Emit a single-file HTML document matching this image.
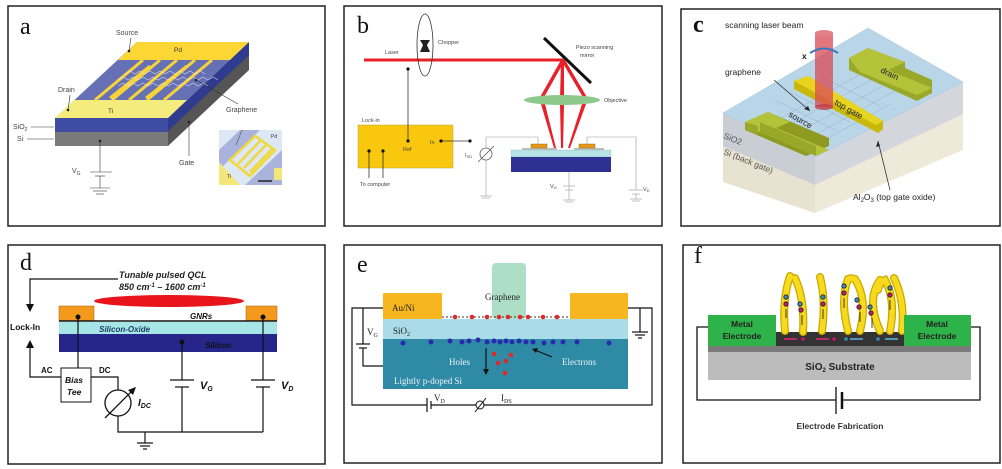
<!DOCTYPE html>
<html><head><meta charset="utf-8"><style>
html,body{margin:0;padding:0;background:#fff;}
svg{display:block;}
text{font-family:"Liberation Sans",sans-serif;}
.pl{font-family:"Liberation Serif",serif;font-size:24px;fill:#111;}
.sf text,text.sf{font-family:"Liberation Serif",serif;}
</style></head><body>
<svg width="1002" height="469" viewBox="0 0 1002 469" xmlns="http://www.w3.org/2000/svg">
<rect width="1002" height="469" fill="#fff"/>
<!-- panel borders -->
<g fill="none" stroke="#222" stroke-width="1.5">
<rect x="8" y="6" width="317" height="220"/>
<rect x="344" y="6" width="318" height="220"/>
<rect x="681" y="9" width="319" height="217"/>
<rect x="8" y="245" width="317" height="219"/>
<rect x="344" y="245" width="318" height="218"/>
<rect x="683" y="245" width="317" height="218"/>
</g>

<!-- ===== Panel a ===== -->
<text class="pl" x="20" y="34">a</text>
<polygon points="168,118 249,42 249,70 168,146" fill="#555"/>
<polygon points="168,118 249,42 249,55 168,131" fill="#2f3b8e"/>
<rect x="55" y="118" width="113" height="14" fill="#3f4ca3"/>
<rect x="55" y="132" width="113" height="14" fill="#7a7a7a"/>
<polygon points="55,118 168,118 249,42 137,42" fill="#6670b4"/>
<polygon points="137,42 249,42 230,60 118,60" fill="#fbd634"/>
<polygon points="74,100 187,100 168,118 55,118" fill="#f5ec7e"/>
<g stroke="#f7d33a" stroke-width="3">
<line x1="143" y1="60" x2="95" y2="100"/><line x1="160" y1="60" x2="112" y2="100"/>
<line x1="177" y1="60" x2="129" y2="100"/><line x1="195" y1="60" x2="147" y2="100"/>
<line x1="212" y1="60" x2="164" y2="100"/>
<line x1="150" y1="66" x2="110" y2="98"/><line x1="187" y1="66" x2="146" y2="98"/>
</g>
<g fill="none" stroke="#e8e8ff" stroke-width="0.6" opacity="0.8">
<path d="M118,80 l5,-3 l5,3 l5,-3 l5,3 l5,-3 l5,3 l5,-3 l5,3 l5,-3 l5,3 l5,-3 l5,3 l5,-3 l5,3 l5,-3 l5,3 l5,-3 l5,3 l5,-3 l5,3"/>
<path d="M118,86 l5,-3 l5,3 l5,-3 l5,3 l5,-3 l5,3 l5,-3 l5,3 l5,-3 l5,3 l5,-3 l5,3 l5,-3 l5,3 l5,-3 l5,3 l5,-3 l5,3"/>
<path d="M125,74 l5,-3 l5,3 l5,-3 l5,3 l5,-3 l5,3 l5,-3 l5,3 l5,-3 l5,3 l5,-3 l5,3 l5,-3 l5,3 l5,-3 l5,3"/>
</g>
<g font-size="7" fill="#444">
<text x="116" y="35">Source</text><text x="58" y="92">Drain</text>
<text x="174" y="52" font-size="6.5" fill="#333">Pd</text>
<text x="108" y="113" font-size="6.5" fill="#333">Ti</text>
<text x="226" y="112">Graphene</text>
<text x="13" y="129">SiO<tspan font-size="5" dy="2">2</tspan></text>
<text x="17" y="141">Si</text>
<text x="179" y="165">Gate</text>
<text x="72" y="173">V<tspan font-size="5" dy="2">G</tspan></text>
</g>
<g stroke="#333" stroke-width="0.6" fill="none">
<line x1="131" y1="38" x2="129" y2="51"/><line x1="70" y1="95" x2="68" y2="111"/>
<line x1="196" y1="80" x2="238" y2="104"/><line x1="31" y1="127" x2="54" y2="127"/>
<line x1="27" y1="139" x2="54" y2="139"/><line x1="189" y1="122" x2="189" y2="156"/>
<line x1="100" y1="141" x2="100" y2="172"/><line x1="90" y1="172" x2="112" y2="172"/>
<line x1="95" y1="176" x2="105" y2="176"/><line x1="100" y1="176" x2="100" y2="188"/>
<line x1="90" y1="188" x2="110" y2="188"/><line x1="93" y1="191" x2="107" y2="191"/><line x1="96" y1="194" x2="104" y2="194"/>
</g>
<g fill="#222"><circle cx="129" cy="51" r="1.3"/><circle cx="68" cy="110" r="1.3"/><circle cx="196" cy="80" r="1.3"/><circle cx="189" cy="122" r="1.3"/><circle cx="100" cy="141" r="1.3"/></g>
<!-- inset -->
<rect x="219" y="130" width="63" height="55" fill="#dde8f4"/>
<polygon points="219,150 240,130 260,130 219,170" fill="#a9b3dc"/>
<polygon points="245,185 282,150 282,185" fill="#a9b3dc"/>
<polygon points="219,162 240,185 219,185" fill="#f3e77a"/>
<rect x="274" y="168" width="8" height="12" fill="#f3e77a"/>
<g fill="none" stroke="#f0d83a" stroke-width="2.5">
<polygon points="230,160 255,136 275,150 250,176"/>
<line x1="238" y1="164" x2="260" y2="141"/><line x1="244" y1="168" x2="266" y2="145"/><line x1="250" y1="172" x2="272" y2="149"/>
</g>
<text x="271" y="138" font-size="5" fill="#333">Pd</text><text x="227" y="178" font-size="5" fill="#333">Ti</text>
<line x1="258" y1="181" x2="272" y2="181" stroke="#222" stroke-width="1.5"/>
<line x1="242" y1="130" x2="236" y2="145" stroke="#333" stroke-width="0.5"/>

<!-- ===== Panel b ===== -->
<text class="pl" x="357" y="33">b</text>
<line x1="364" y1="60" x2="564" y2="60" stroke="#e8202a" stroke-width="3"/>
<ellipse cx="425" cy="45" rx="8" ry="31" fill="none" stroke="#333" stroke-width="0.8"/>
<path d="M420,40 L430,40 L427,45 L430,52 L420,52 L423,45Z" fill="#222"/>
<line x1="544" y1="38" x2="591" y2="83" stroke="#111" stroke-width="3"/>
<g fill="#e8202a">
<polygon points="561,60 565,60 543,99 539,99"/>
<polygon points="561,60 564,60 564,99 560,99"/>
<polygon points="561,60 565,60 588,99 584,99"/>
<polygon points="541,104 545,104 556,148 554,148"/>
<polygon points="560,104 564,104 563,148 561,148"/>
<polygon points="582,104 586,104 570,148 568,148"/>
</g>
<ellipse cx="562" cy="100" rx="38" ry="5" fill="#8cc98a"/>
<rect x="358" y="125" width="95" height="43" fill="#f9c80e" stroke="#bba040" stroke-width="0.5"/>
<g stroke="#333" stroke-width="0.8" fill="none">
<line x1="408" y1="69" x2="408" y2="141"/>
<line x1="441" y1="141" x2="470" y2="141"/>
<line x1="369" y1="151" x2="369" y2="178"/><line x1="383" y1="151" x2="383" y2="178"/>
</g>
<g stroke="#999" stroke-width="0.6" fill="none">
<polyline points="486,148 486,137 538,137 538,145"/>
<polyline points="587,145 587,137 636,137 636,190"/>
<line x1="486" y1="160" x2="486" y2="196"/>
<line x1="480" y1="196" x2="492" y2="196"/><line x1="482" y1="198" x2="490" y2="198"/>
<line x1="569" y1="172" x2="569" y2="200"/>
<line x1="563" y1="186" x2="575" y2="186"/><line x1="565" y1="190" x2="573" y2="190"/>
<line x1="563" y1="200" x2="575" y2="200"/><line x1="565" y1="202" x2="573" y2="202"/>
<line x1="629" y1="190" x2="643" y2="190"/><line x1="632" y1="194" x2="640" y2="194"/><line x1="636" y1="194" x2="636" y2="199"/>
<line x1="630" y1="199" x2="642" y2="199"/><line x1="632" y1="201" x2="640" y2="201"/>
</g>
<circle cx="486" cy="154" r="6" fill="#fff" stroke="#555" stroke-width="0.8"/>
<line x1="478" y1="162" x2="494" y2="146" stroke="#555" stroke-width="0.8"/>
<g fill="#111"><circle cx="408" cy="69" r="1.6"/><circle cx="408" cy="141" r="1.6"/><circle cx="441" cy="141" r="1.6"/><circle cx="470" cy="141" r="1.6"/><circle cx="369" cy="151" r="1.6"/><circle cx="383" cy="151" r="1.6"/></g>
<rect x="511" y="150" width="100" height="7" fill="#b5e3e6" stroke="#7aa" stroke-width="0.3"/>
<rect x="511" y="157" width="100" height="15" fill="#2e3192"/>
<rect x="522" y="148" width="35" height="2" fill="#bbb"/><rect x="574" y="148" width="30" height="2" fill="#bbb"/>
<rect x="531" y="144" width="16" height="4" fill="#e59a1c" stroke="#8a5a10" stroke-width="0.4"/>
<rect x="579" y="144" width="16" height="4" fill="#e59a1c" stroke="#8a5a10" stroke-width="0.4"/>
<g font-size="5.5" fill="#444">
<text x="385" y="54">Laser</text><text x="438" y="44">Chopper</text>
<text x="576" y="49">Piezo scanning</text><text x="580" y="57">mirror</text>
<text x="604" y="102">Objective</text><text x="362" y="122">Lock-in</text>
<text x="403" y="151">Ref</text><text x="430" y="144">In</text>
<text x="360" y="186">To computer</text>
<text x="465" y="157">I<tspan font-size="4" dy="1">SD</tspan></text>
<text x="550" y="188">V<tspan font-size="4" dy="1">G</tspan></text>
<text x="643" y="191">V<tspan font-size="4" dy="1">D</tspan></text>
</g>

<!-- ===== Panel c ===== -->
<text class="pl" x="693" y="32" font-weight="bold" font-size="20">c</text>
<polygon points="723,113 815,157 815,213 723,182" fill="#e8e2d0"/>
<polygon points="815,157 963,82 963,150 815,213" fill="#efe9da"/>
<polygon points="723,113 815,157 815,185 723,146" fill="#c9cdd4"/>
<polygon points="815,157 963,82 963,114 815,185" fill="#d3d6dc"/>
<polygon points="723,113 868,28 963,82 815,157" fill="#b9d5e8" stroke="#a6c8de" stroke-width="0.5"/>
<g fill="none" stroke="#7e95a8" stroke-width="0.4" opacity="0.7">
<path d="M780,130 l100,-55 M790,137 l100,-55 M800,143 l95,-52 M770,124 l100,-55 M810,148 l80,-44"/>
<path d="M775,100 l60,30 M790,92 l60,30 M805,84 l60,30 M820,76 l60,30"/>
</g>
<polygon points="745,122 768,112 829,138 829,146 806,156 745,130" fill="#8e9a20"/>
<polygon points="745,122 768,112 790,122 776,128 829,150 816,156 760,132 745,130" fill="#b5c33a"/>
<polygon points="745,122 758,126 758,135 745,130" fill="#9aa82a"/>
<polygon points="760,132 816,156 816,146 760,122" fill="#9aa82a"/>
<polygon points="849,58 868,48 905,62 905,68 932,80 932,93 917,101 849,70" fill="#9aa82a"/>
<polygon points="849,58 868,48 905,62 888,70 932,88 917,95 860,72" fill="#b5c33a"/>
<polygon points="794,81 808,76 883,121 883,129 878,133 794,89" fill="#c9b80c"/>
<polygon points="794,81 808,76 883,121 876,125" fill="#e6d420"/>
<rect x="815" y="33" width="18" height="74" fill="#d94a55" opacity="0.75"/>
<ellipse cx="824" cy="33" rx="9" ry="3" fill="#e58088"/>
<ellipse cx="824" cy="107" rx="9" ry="3" fill="#c33d48" opacity="0.8"/>
<path d="M810,53 Q824,44 838,53" fill="none" stroke="#3a76c0" stroke-width="2"/>
<g font-size="8.5" fill="#222">
<text x="725" y="28">scanning laser beam</text>
<text x="802" y="59" font-weight="bold">x</text>
<text x="725" y="75">graphene</text>
<text x="853" y="200">Al<tspan font-size="6" dy="2">2</tspan><tspan dy="-2">O</tspan><tspan font-size="6" dy="2">3</tspan><tspan dy="-2"> (top gate oxide)</tspan></text>
<text transform="translate(723,138) rotate(22)" fill="#555">SiO2</text>
<text transform="translate(723,154) rotate(22)" fill="#555">Si (back gate)</text>
<text transform="translate(880,72) rotate(26)">drain</text>
<text transform="translate(834,104) rotate(30)">top gate</text>
<text transform="translate(788,116) rotate(30)">source</text>
</g>
<g stroke="#222" stroke-width="0.7"><line x1="774" y1="80" x2="810" y2="111"/><line x1="890" y1="190" x2="878" y2="141"/></g>
<polygon points="810,111 804,109 808,106" fill="#222"/><polygon points="878,141 876,147 880,146" fill="#222"/>

<!-- ===== Panel d ===== -->
<text class="pl" x="20" y="270">d</text>
<g font-size="9" font-weight="bold" font-style="italic" fill="#222">
<text x="119" y="278">Tunable pulsed QCL</text>
<text x="119" y="290">850 cm<tspan font-size="6" dy="-3">-1</tspan><tspan dy="3"> – 1600 cm</tspan><tspan font-size="6" dy="-3">-1</tspan></text>
</g>
<ellipse cx="169" cy="301" rx="75" ry="6" fill="#e8141c"/>
<rect x="59" y="306" width="35" height="15" fill="#f39a1c" stroke="#a06010" stroke-width="0.5"/>
<rect x="246" y="306" width="31" height="15" fill="#f39a1c" stroke="#a06010" stroke-width="0.5"/>
<line x1="59" y1="321" x2="277" y2="321" stroke="#111" stroke-width="1.5"/>
<rect x="59" y="322" width="218" height="12" fill="#a6e6e6"/>
<rect x="59" y="334" width="218" height="18" fill="#25258a"/>
<g font-size="8" font-weight="bold" font-style="italic">
<text x="190" y="319" fill="#111">GNRs</text>
<text x="99" y="332" fill="#1c3c66">Silicon-Oxide</text>
<text x="205" y="348" fill="#111">Silicon</text>
</g>
<g stroke="#111" stroke-width="1.2" fill="none">
<polyline points="118,279 30,279 30,306"/>
<polyline points="30,347 30,377 61,377"/>
<line x1="78" y1="317" x2="78" y2="368"/>
<polyline points="91,377 118,377 118,390"/>
<polyline points="118,416 118,432 263,432"/>
<line x1="182" y1="342" x2="182" y2="380"/><line x1="182" y1="387" x2="182" y2="432"/>
<line x1="263" y1="317" x2="263" y2="380"/><line x1="263" y1="387" x2="263" y2="432"/>
<line x1="145" y1="432" x2="145" y2="443"/>
<line x1="137" y1="443" x2="153" y2="443"/><line x1="140" y1="446" x2="150" y2="446"/><line x1="143" y1="449" x2="147" y2="449"/>
<line x1="170" y1="380" x2="194" y2="380"/><line x1="175" y1="387" x2="189" y2="387"/>
<line x1="251" y1="380" x2="275" y2="380"/><line x1="256" y1="387" x2="270" y2="387"/>
</g>
<polygon points="30,312 26,304 34,304" fill="#111"/><polygon points="30,340 26,348 34,348" fill="#111"/>
<rect x="61" y="368" width="30" height="34" fill="#fff" stroke="#111" stroke-width="1"/>
<circle cx="118" cy="403" r="13" fill="#fff" stroke="#111" stroke-width="1.3"/>
<line x1="105" y1="418" x2="134" y2="389" stroke="#111" stroke-width="1.3"/>
<polygon points="136,387 128,390 133,395" fill="#111"/>
<g fill="#111"><circle cx="78" cy="317" r="2.5"/><circle cx="263" cy="317" r="2.5"/><circle cx="182" cy="342" r="2.5"/></g>
<g font-weight="bold" fill="#111">
<text x="10" y="330" font-size="8.5">Lock-In</text>
<text x="41" y="373" font-size="8">AC</text><text x="99" y="373" font-size="8">DC</text>
<text x="65" y="383" font-size="8.5" font-style="italic">Bias</text>
<text x="67" y="395" font-size="8.5" font-style="italic">Tee</text>
<text x="138" y="406" font-size="10" font-style="italic">I<tspan font-size="7" dy="2">DC</tspan></text>
<text x="200" y="389" font-size="11" font-style="italic">V<tspan font-size="7" dy="2">G</tspan></text>
<text x="281" y="389" font-size="11" font-style="italic">V<tspan font-size="7" dy="2">D</tspan></text>
</g>

<!-- ===== Panel e ===== -->
<text class="pl" x="357" y="272">e</text>
<rect x="492" y="263" width="34" height="56" rx="4" fill="#9fd9bd" opacity="0.85"/>
<rect x="383" y="293" width="59" height="26" fill="#f6b620"/>
<rect x="570" y="293" width="58" height="26" fill="#f6b620"/>
<rect x="383" y="319" width="245" height="20" fill="#a9dbe8"/>
<rect x="383" y="339" width="245" height="50" fill="#2f8aa5"/>
<line x1="442" y1="317" x2="570" y2="317" stroke="#333" stroke-width="1" stroke-dasharray="2,2"/>
<g fill="#e02a2a">
<circle cx="455" cy="317" r="2.3"/><circle cx="472" cy="317" r="2.3"/><circle cx="487" cy="317" r="2.3"/><circle cx="499" cy="317" r="2.3"/><circle cx="508" cy="317" r="2.3"/><circle cx="520" cy="317" r="2.3"/><circle cx="528" cy="317" r="2.3"/><circle cx="543" cy="317" r="2.3"/><circle cx="557" cy="317" r="2.3"/>
<circle cx="494" cy="354" r="2.3"/><circle cx="511" cy="355" r="2.3"/><circle cx="498" cy="363" r="2.3"/><circle cx="506" cy="361" r="2.3"/><circle cx="505" cy="373" r="2.3"/>
</g>
<g fill="#2a2ab0">
<circle cx="403" cy="343" r="2.5"/><circle cx="431" cy="342" r="2.5"/><circle cx="450" cy="341" r="2.5"/><circle cx="462" cy="342" r="2.5"/><circle cx="469" cy="341" r="2.5"/><circle cx="478" cy="340" r="2.5"/><circle cx="487" cy="342" r="2.5"/><circle cx="494" cy="341" r="2.5"/><circle cx="500" cy="342" r="2.5"/><circle cx="506" cy="341" r="2.5"/><circle cx="512" cy="342" r="2.5"/><circle cx="519" cy="341" r="2.5"/><circle cx="526" cy="342" r="2.5"/><circle cx="533" cy="342" r="2.5"/><circle cx="544" cy="343" r="2.5"/><circle cx="553" cy="342" r="2.5"/><circle cx="563" cy="342" r="2.5"/><circle cx="577" cy="342" r="2.5"/><circle cx="609" cy="343" r="2.5"/>
</g>
<g stroke="#111" stroke-width="1.2" fill="none">
<line x1="486" y1="348" x2="486" y2="372"/><line x1="552" y1="357" x2="535" y2="350"/>
<polyline points="383,308 352,308 352,405 427,405"/><line x1="427" y1="398" x2="427" y2="412"/><line x1="431" y1="401" x2="431" y2="409"/>
<polyline points="431,405 628,405 652,405 652,308 628,308"/>
<polyline points="363,308 363,344"/><line x1="356" y1="344" x2="370" y2="344"/><line x1="359" y1="348" x2="367" y2="348"/>
<polyline points="363,348 363,366 383,366"/>
<line x1="640" y1="308" x2="640" y2="332"/><line x1="632" y1="332" x2="648" y2="332"/><line x1="635" y1="335" x2="645" y2="335"/><line x1="638" y1="338" x2="642" y2="338"/>
</g>
<polygon points="486,375 483,369 489,369" fill="#111"/><polygon points="532,349 538,348 536,353" fill="#111"/>
<circle cx="480" cy="405" r="4" fill="#fff" stroke="#111" stroke-width="1"/>
<line x1="475" y1="412" x2="486" y2="398" stroke="#111" stroke-width="1"/>
<g class="sf" font-size="9" fill="#222">
<text x="392" y="311">Au/Ni</text><text x="485" y="300">Graphene</text>
<text x="393" y="334">SiO<tspan font-size="6" dy="2">2</tspan></text>
<text x="367" y="335">V<tspan font-size="6" dy="2">G</tspan></text>
<text x="434" y="401">V<tspan font-size="6" dy="2">D</tspan></text>
<text x="501" y="401">I<tspan font-size="6" dy="2">DS</tspan></text>
</g>
<g class="sf" font-size="9" fill="#e8f4f8">
<text x="449" y="365">Holes</text><text x="562" y="365">Electrons</text><text x="394" y="384">Lightly p-doped Si</text>
</g>

<!-- ===== Panel f ===== -->
<text class="pl" x="694" y="263">f</text>
<g stroke="#111" stroke-width="1.3" fill="none">
<polyline points="708,327 697,327 697,400 836,400"/><polyline points="843,400 980,400 980,327 971,327"/>
<line x1="836" y1="387" x2="836" y2="414"/><line x1="842" y1="392" x2="842" y2="409" stroke-width="2.5"/>
</g>
<rect x="708" y="346" width="263" height="6" fill="#7a7a7a"/>
<rect x="708" y="352" width="263" height="28" fill="#bcbcbc"/>
<rect x="776" y="332" width="128" height="14" fill="#333"/>
<g fill="none" stroke-linecap="round">
<g stroke="#c9a800" stroke-width="8">
<path d="M785,331 Q782,300 790,276"/><path d="M803,332 Q805,300 795,278"/>
<path d="M822,331 Q826,300 820,277"/><path d="M848,331 Q840,300 848,279 Q855,276 858,285"/>
<path d="M860,331 Q868,300 855,279"/><path d="M880,331 Q866,300 880,280"/>
<path d="M890,331 Q896,300 885,280 Q880,282 878,290"/><path d="M902,331 Q905,300 894,278"/>
</g>
<g stroke="#f7da1e" stroke-width="5.5">
<path d="M785,331 Q782,300 790,276"/><path d="M803,332 Q805,300 795,278"/>
<path d="M822,331 Q826,300 820,277"/><path d="M848,331 Q840,300 848,279 Q855,276 858,285"/>
<path d="M860,331 Q868,300 855,279"/><path d="M880,331 Q866,300 880,280"/>
<path d="M890,331 Q896,300 885,280 Q880,282 878,290"/><path d="M902,331 Q905,300 894,278"/>
</g>
</g>
<g stroke="#222" stroke-width="0.8">
<circle cx="786" cy="297" r="2.2" fill="#3d8ab5"/><circle cx="786" cy="304" r="2.2" fill="#c8156e"/>
<circle cx="800" cy="304" r="2.2" fill="#3d8ab5"/><circle cx="801" cy="310" r="2.2" fill="#c8156e"/>
<circle cx="823" cy="297" r="2.2" fill="#3d8ab5"/><circle cx="823" cy="304" r="2.2" fill="#c8156e"/>
<circle cx="844" cy="286" r="2.2" fill="#3d8ab5"/><circle cx="844" cy="293" r="2.2" fill="#c8156e"/>
<circle cx="857" cy="300" r="2.2" fill="#3d8ab5"/><circle cx="859" cy="307" r="2.2" fill="#c8156e"/>
<circle cx="870" cy="307" r="2.2" fill="#3d8ab5"/><circle cx="871" cy="313" r="2.2" fill="#c8156e"/>
<circle cx="890" cy="288" r="2.2" fill="#3d8ab5"/><circle cx="890" cy="295" r="2.2" fill="#c8156e"/>
</g>
<g stroke="#111" stroke-width="0.8"><line x1="786" y1="309" x2="786" y2="318"/><line x1="802" y1="315" x2="802" y2="325"/><line x1="823" y1="309" x2="823" y2="319"/><line x1="844" y1="298" x2="844" y2="308"/><line x1="860" y1="312" x2="860" y2="322"/><line x1="872" y1="318" x2="872" y2="328"/><line x1="890" y1="300" x2="890" y2="310"/></g>
<g stroke-width="1.5">
<line x1="784" y1="339" x2="797" y2="339" stroke="#e8207a"/><line x1="816" y1="339" x2="829" y2="339" stroke="#e8207a"/>
<line x1="850" y1="339" x2="863" y2="339" stroke="#5ab8e8"/><line x1="885" y1="339" x2="898" y2="339" stroke="#5ab8e8"/>
</g>
<circle cx="803" cy="339" r="1.8" fill="#c8156e"/><circle cx="834" cy="339" r="1.8" fill="#c8156e"/><circle cx="846" cy="339" r="1.8" fill="#3d8ab5"/><circle cx="878" cy="339" r="1.8" fill="#3d8ab5"/>
<rect x="708" y="315" width="68" height="31" fill="#2eb24a"/>
<rect x="904" y="315" width="67" height="31" fill="#2eb24a"/>
<g font-weight="bold" fill="#222" text-anchor="middle">
<text x="742" y="327" font-size="8.5">Metal</text><text x="742" y="339" font-size="8.5">Electrode</text>
<text x="937" y="327" font-size="8.5">Metal</text><text x="937" y="339" font-size="8.5">Electrode</text>
<text x="840" y="370" font-size="10">SiO<tspan font-size="6" dy="2">2</tspan><tspan dy="-2"> Substrate</tspan></text>
<text x="840" y="429" font-size="8.5" fill="#333">Electrode Fabrication</text>
</g>
</svg>
</body></html>
